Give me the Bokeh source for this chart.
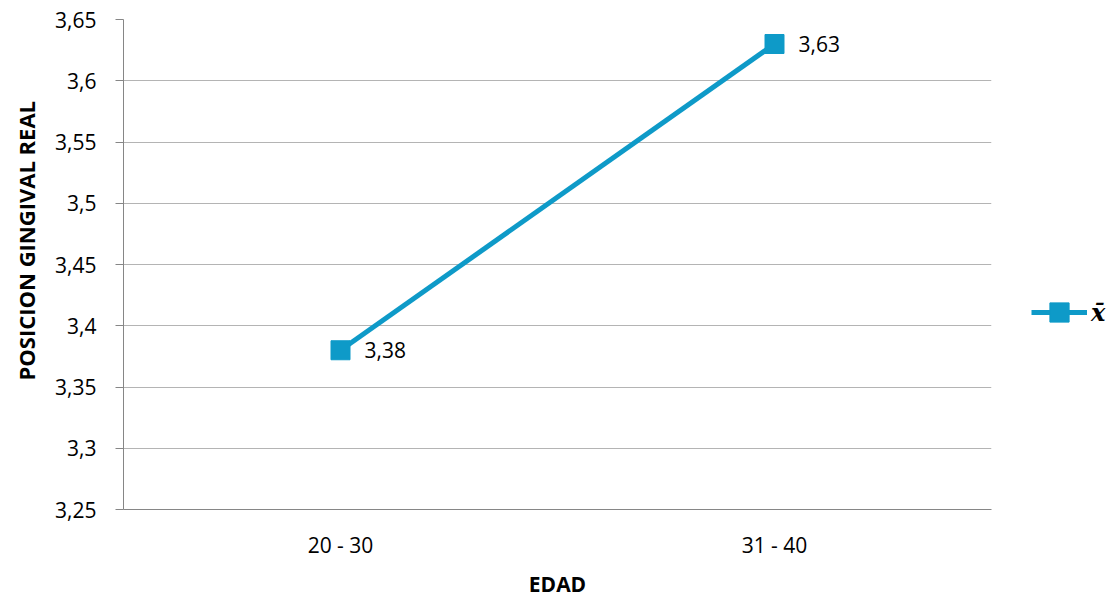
from bokeh.plotting import figure
from bokeh.models import (FactorRange, Range1d, FixedTicker, ColumnDataSource,
                          LabelSet, Legend, LegendItem, Title)
from bokeh.core.properties import value
from bokeh.embed import file_html
from bokeh.resources import INLINE

categories = ["20 - 30", "31 - 40"]
means = [3.38, 3.63]
mean_labels = ["3,38", "3,63"]
y_ticks = [3.25, 3.3, 3.35, 3.4, 3.45, 3.5, 3.55, 3.6, 3.65]
y_tick_labels = ["3,25", "3,3", "3,35", "3,4", "3,45", "3,5", "3,55", "3,6", "3,65"]
series_name = "x\u0304"
y_title = "POSICION GINGIVAL REAL"
x_title = "EDAD"

COLOR = "#0E9AC8"
FONT = "Open Sans"

src = ColumnDataSource(dict(x=categories, y=means, label=mean_labels))

p = figure(x_range=FactorRange(*categories, range_padding=0),
           y_range=Range1d(3.25, 3.65),
           frame_width=868, frame_height=490,
           min_border_left=122, min_border_right=120,
           min_border_top=19, min_border_bottom=85,
           output_backend="svg", toolbar_location=None)

p.outline_line_color = None
p.background_fill_color = "white"
p.border_fill_color = "white"
p.xgrid.grid_line_color = None
p.ygrid.grid_line_color = "#B4B4B4"
p.ygrid.grid_line_width = 1

# Y axis
p.yaxis.ticker = FixedTicker(ticks=y_ticks)
p.yaxis.major_label_overrides = {t: l for t, l in zip(y_ticks, y_tick_labels)}
p.yaxis.axis_line_color = "#868686"
p.yaxis.major_tick_line_color = "#868686"
p.yaxis.major_tick_out = 8
p.yaxis.major_tick_in = 0
p.yaxis.minor_tick_line_color = None
p.yaxis.major_label_standoff = 19
p.yaxis.major_label_text_font = FONT
p.yaxis.major_label_text_font_size = "21px"
p.yaxis.major_label_text_color = "black"

ytitle = Title(text=y_title, align="left", offset=129, standoff=20,
               vertical_align="top",
               text_font=FONT, text_font_size="22px", text_font_style="bold",
               text_color="black")
p.add_layout(ytitle, "left")

# X axis
p.xaxis.axis_line_color = "#868686"
p.xaxis.major_tick_line_color = None
p.xaxis.major_tick_out = 0
p.xaxis.major_tick_in = 0
p.xaxis.minor_tick_line_color = None
p.xaxis.major_label_standoff = 21
p.xaxis.major_label_text_font = FONT
p.xaxis.major_label_text_font_size = "21px"
p.xaxis.major_label_text_color = "black"
p.xaxis.axis_label = x_title
p.xaxis.axis_label_text_font = FONT
p.xaxis.axis_label_text_font_size = "21px"
p.xaxis.axis_label_text_font_style = "bold"
p.xaxis.axis_label_text_color = "black"
p.xaxis.axis_label_standoff = 8

ln = p.line("x", "y", source=src, line_width=5, line_color=COLOR)
sq = p.scatter("x", "y", source=src, marker="square", size=19,
               fill_color=COLOR, line_color=COLOR)

labels = LabelSet(x="x", y="y", text="label", source=src, x_offset=24,
                  text_baseline="middle", text_align="left",
                  text_font=value(FONT), text_font_size=value("21px"),
                  text_color="black")
p.add_layout(labels)

legend = Legend(items=[LegendItem(label=series_name, renderers=[ln, sq])],
                location=(40, 173), orientation="vertical",
                padding=0, margin=0, border_line_color=None,
                background_fill_alpha=0, glyph_width=56, glyph_height=48,
                label_standoff=4,
                label_text_font="DejaVu Serif", label_text_font_style="bold italic",
                label_text_font_size="24px", label_text_color="black")
p.add_layout(legend, "right")

open("out.html", "w").write(file_html(p, INLINE))
